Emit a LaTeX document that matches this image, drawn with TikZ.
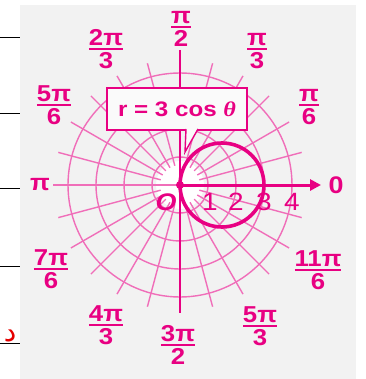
\documentclass[tikz,border=0pt]{standalone}
\usepackage{amsmath}
\usepackage{fontspec}
\setmainfont{Liberation Sans}
\newfontfamily\arabicfont[Script=Arabic]{DejaVu Sans}
\newfontfamily\thetafont{Liberation Serif}
\TeXXeTstate=1
\usetikzlibrary{arrows.meta,calc}
\definecolor{mag}{RGB}{232,0,130}
\definecolor{gridpink}{RGB}{240,110,185}
\definecolor{bggray}{RGB}{242,242,242}
\newcommand{\widen}[1]{\scalebox{1.12}[1]{#1}}
\newcommand{\fr}[2]{\widen{$\genfrac{}{}{2pt}{1}{\hbox{\bfseries #1}}{\hbox{\bfseries #2}}$}}
\tikzset{
  gridline/.style={draw=gridpink, line width=1.4pt},
  anglab/.style={text=mag, font=\fontsize{23}{24}\selectfont, inner sep=0pt},
  numlab/.style={text=mag, font=\fontsize{25}{26}\selectfont, inner sep=0pt},
  sidebar/.style={draw=black, line width=0.8pt},
}
\begin{document}
\begin{tikzpicture}[x=1pt,y=-1pt]
\useasboundingbox (0,0) rectangle (365,379);
\fill[bggray] (20,5) rectangle (356,379);
% side marks
\foreach \yy in {37,113,188,266,343} \draw[sidebar] (0,\yy) -- (20,\yy);
\node[text=red!90!black, font=\arabicfont\fontsize{28}{28}\selectfont, inner sep=0pt] (dal) at (10,336) {\beginR د\endR};
\coordinate (O) at (180,185);
% white disk at pole
\fill[white] (O) circle (24);
% grid circles
\foreach \r in {1,2,3,4} \draw[gridline] (O) circle (\r*28);
% rays
\foreach \a in {0,15,...,345} \draw[gridline] ($(O)+(\a:20)$) -- ($(O)+(\a:126)$);
% axes
\draw[draw=mag, line width=1.6pt] (180,50) -- (180,313);
\draw[draw=gridpink, line width=1.6pt] (53,185) -- (O);
\draw[draw=mag, line width=3pt, -{Triangle[length=11pt,width=11pt]}] (O) -- (321,185);
% curve r = 3 cos theta
\draw[draw=mag, line width=3.6pt] (222,185) circle (42);
\fill[mag] (O) circle (4);
% label box
\draw[draw=mag, line width=1.6pt, fill=white!60!bggray] (107,88) rectangle (247,130);
\draw[draw=mag, line width=1.4pt, fill=white!60!bggray] (186,129) -- (185,152) -- (198,129);
\draw[draw=white!60!bggray, line width=1.6pt] (187.5,130) -- (196,130);
\node[text=mag, font=\bfseries\fontsize{21}{21}\selectfont, inner sep=0pt] (eq) at (177,109) {\scalebox{1.15}[1]{r = 3 cos {\thetafont\itshape θ}}};
% angle labels
\node[anglab] (a90) at (181,29) {\fr{π}{2}};
\node[anglab] (a120) at (106,49) {\fr{2π}{3}};
\node[anglab] (a60) at (257,51) {\fr{π}{3}};
\node[anglab] (a150) at (54,105) {\fr{5π}{6}};
\node[anglab] (a30) at (309,107) {\fr{π}{6}};
\node[anglab, font=\bfseries\fontsize{23}{24}\selectfont] (a180) at (40,185) {\widen{π}};
\node[anglab, font=\bfseries\fontsize{24}{24}\selectfont] (a0) at (336,185) {\widen{0}};
\node[anglab] (a210) at (51,269) {\fr{7π}{6}};
\node[anglab] (a240) at (106,325) {\fr{4π}{3}};
\node[anglab] (a270) at (178,345) {\fr{3π}{2}};
\node[anglab] (a300) at (260,326) {\fr{5π}{3}};
\node[anglab] (a330) at (318,270) {\fr{11π}{6}};
% radius numbers
\node[numlab] (n1) at (210,202) {\widen{1}};
\node[numlab] (n2) at (236,202) {\widen{2}};
\node[numlab] (n3) at (264,202) {\widen{3}};
\node[numlab] (n4) at (292,202) {\widen{4}};
\node[text=mag, font=\bfseries\itshape\fontsize{24}{24}\selectfont, inner sep=0pt] (olab) at (166,202) {\widen{O}};
\end{tikzpicture}
\end{document}
